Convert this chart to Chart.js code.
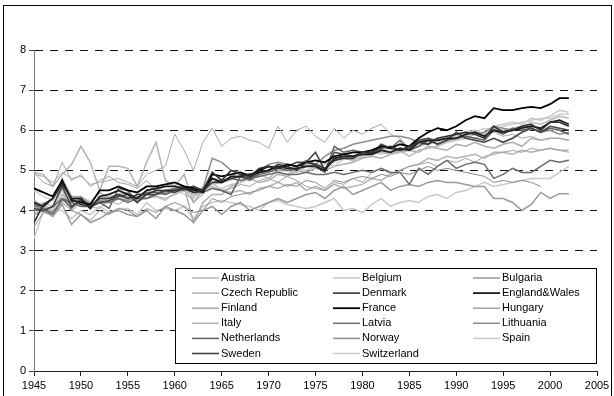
<!DOCTYPE html>
<html>
<head>
<meta charset="utf-8">
<script src="https://cdn.jsdelivr.net/npm/chart.js@4.4.0/dist/chart.umd.min.js"></script>
<style>
  html, body { margin: 0; padding: 0; background: #fff; }
  #wrap { width: 614px; height: 396px; position: relative; }
</style>
</head>
<body>
<div id="wrap"><canvas id="myChart" width="614" height="396"></canvas></div>
<script>
// years 1945 .. 2002
const years = [];
for (let y = 1945; y <= 2002; y++) years.push(y);

const countries = ["Austria","Belgium","Bulgaria","Czech Republic","Denmark","England&Wales",
  "Finland","France","Hungary","Italy","Latvia","Lithuania","Netherlands","Norway","Spain",
  "Sweden","Switzerland"];

const austria = [4.2,4.15,4.0,4.4,4.1,4.3,4.05,4.25,4.3,4.3, 4.35,4.2,4.4,4.35,4.3,4.4,4.5,4.4,4.5,4.8,
  4.75,4.8,4.75,4.9,4.9,4.8,5.0,5.0,4.95,5.1, 5.15,5.05,5.25,5.3,5.25,5.35,5.4,5.45,5.4,5.5,
  5.35,5.5,5.55,5.6,5.7,5.75,5.8,5.9,5.95,6.05, 6.0,6.05,6.1,6.2,6.15,6.25,6.35,6.3];
const belgium = [4.05,4.2,4.1,4.5,4.0,4.2,4.1,4.05,4.25,4.15, 4.3,4.25,4.3,4.35,4.25,4.45,4.6,4.35,4.45,4.6,
  4.55,4.65,4.7,4.8,4.85,4.9,4.95,4.9,5.05,5.0, 5.1,5.2,5.1,5.3,5.35,5.4,5.4,5.5,5.55,5.45,
  5.6,5.65,5.7,5.8,5.75,5.85,5.95,6.0,5.9,6.1, 6.15,6.2,6.15,6.3,6.25,6.35,6.5,6.45];
const bulgaria = [3.9,4.0,3.85,4.15,3.65,3.9,3.7,3.8,3.95,4.0, 3.9,3.85,4.0,3.8,4.1,4.0,3.9,3.7,4.0,4.1,
  3.9,4.1,4.2,4.0,4.1,4.2,4.3,4.2,4.3,4.4, 4.45,4.3,4.5,4.6,4.4,4.5,4.6,4.7,4.5,4.6,
  4.65,4.6,4.7,4.75,4.7,4.7,4.65,4.6,4.6,4.3, 4.3,4.2,4.0,4.15,4.45,4.3,4.42,4.42];
const czech = [4.25,4.1,3.95,4.8,4.35,4.35,4.2,4.45,4.3,4.4, 4.45,4.3,4.5,4.55,4.4,4.5,4.6,3.7,4.2,4.4,
  4.4,4.6,4.7,4.8,4.7,4.75,4.9,4.85,5.0,4.95, 5.05,5.0,5.1,5.15,5.2,5.3,5.35,5.3,5.4,5.45,
  5.5,5.45,5.6,5.55,5.5,5.65,5.6,5.7,5.6,5.55, 5.65,5.7,5.6,5.8,5.75,5.8,5.8,5.75];
const denmark = [3.7,4.15,4.3,4.65,4.3,4.15,4.1,4.3,4.3,4.4, 4.3,4.4,4.4,4.5,4.5,4.5,4.55,4.45,4.5,4.95,
  4.75,5.0,4.9,4.85,5.05,5.1,5.05,5.1,5.0,5.2, 5.15,5.05,5.25,5.3,5.3,5.45,5.45,5.55,5.6,5.5,
  5.6,5.7,5.65,5.8,5.85,5.9,5.95,5.9,5.8,6.1, 5.95,6.0,6.1,6.15,6.0,6.2,6.2,6.1];
const england = [4.2,4.1,4.3,4.7,4.3,4.3,4.05,4.35,4.4,4.5, 4.4,4.3,4.5,4.55,4.6,4.6,4.55,4.5,4.5,4.8,
  4.7,4.85,4.85,4.9,4.95,5.0,5.1,5.05,5.05,5.1, 5.1,5.0,5.3,5.35,5.35,5.4,5.4,5.5,5.45,5.55,
  5.5,5.7,5.75,5.75,5.8,5.8,5.9,5.95,5.85,6.0, 5.95,6.0,6.05,6.1,6.05,6.2,6.25,6.15];
const finland = [4.9,4.85,4.7,4.95,4.8,4.85,4.65,4.7,4.75,4.8, 4.7,4.6,4.9,5.0,5.1,5.9,5.5,5.0,5.7,6.05,
  5.6,5.8,5.85,5.75,5.7,5.55,6.1,5.7,6.0,6.1, 5.85,5.7,6.05,5.8,6.0,5.9,6.05,6.15,5.9,5.8,
  5.55,5.6,5.7,5.75,5.8,5.9,5.85,5.8,5.9,5.95, 5.85,5.9,5.8,5.85,5.75,5.8,5.8,5.75];
const france = [4.55,4.45,4.35,4.75,4.25,4.2,4.15,4.5,4.5,4.6, 4.5,4.45,4.6,4.6,4.65,4.7,4.6,4.55,4.45,4.9,
  4.85,4.9,4.95,4.85,5.0,5.1,5.05,5.15,5.1,5.2, 5.25,5.2,5.35,5.4,5.45,5.45,5.5,5.6,5.55,5.65,
  5.6,5.8,5.95,6.05,6.0,6.1,6.25,6.35,6.3,6.55, 6.5,6.5,6.55,6.58,6.55,6.65,6.8,6.8];
const hungary = [4.95,4.7,4.6,5.2,4.75,4.9,4.6,4.75,4.85,4.7, 4.65,4.55,4.75,4.5,4.6,4.7,4.55,4.2,4.4,4.7,
  4.5,4.55,4.65,4.6,4.75,4.8,4.7,4.85,4.75,4.6, 4.55,4.5,4.7,4.65,4.8,4.7,4.95,5.05,4.9,5.0,
  5.1,5.15,5.2,5.1,5.25,5.2,5.3,5.2,5.35,5.4, 5.45,5.5,5.45,5.55,5.5,5.55,5.5,5.45];
const italy = [4.95,4.9,4.6,4.9,5.15,5.6,5.2,4.5,5.1,5.1, 5.05,4.6,5.2,5.7,4.75,4.6,4.9,4.2,4.5,4.6,
  4.5,4.45,4.5,4.4,4.55,4.6,4.7,4.6,4.7,4.5, 4.6,4.5,4.65,4.55,4.6,4.65,4.8,4.75,4.9,5.0,
  5.1,5.15,5.3,5.25,5.35,5.3,5.35,5.4,5.3,5.45, 5.45,5.4,5.5,5.45,5.5,5.55,5.5,5.5];
const latvia = [4.0,4.0,4.1,4.3,4.2,4.1,4.1,4.2,4.2,4.3, 4.2,4.3,4.3,4.4,4.5,4.55,4.5,4.6,4.5,4.7,
  4.75,4.8,4.75,4.8,4.85,4.9,4.95,4.9,4.9,4.95, 4.9,4.9,4.95,4.9,4.95,5.0,4.95,5.05,4.95,4.95,
  4.65,5.05,4.9,5.1,5.25,5.05,5.15,5.2,5.15,4.8, 4.9,5.05,4.95,4.95,5.1,5.25,5.2,5.25];
const lithuania = [3.6,3.95,3.9,4.2,4.0,3.9,3.75,4.0,3.9,4.05, 4.0,3.85,4.05,3.95,4.1,4.2,4.1,3.95,4.0,4.3,
  4.2,4.35,4.4,4.45,4.5,4.6,4.55,4.65,4.6,4.75, 4.7,4.55,4.75,4.7,4.8,4.85,4.8,4.9,4.85,4.95,
  4.9,5.0,5.1,5.0,5.05,5.0,4.95,4.9,4.85,4.7, 4.75,4.7,4.75,4.7,4.6];
const netherlands = [4.15,4.05,3.9,4.3,4.05,4.3,4.1,4.2,4.05,4.55, 4.5,4.2,4.45,4.45,4.4,4.5,4.6,4.45,4.45,4.55,
  4.5,4.4,4.85,4.75,4.9,4.95,5.05,5.0,5.05,5.1, 5.1,4.95,5.6,5.45,5.5,5.45,5.5,5.6,5.55,5.75,
  5.5,5.6,5.75,5.65,5.75,5.8,5.85,5.8,5.75,6.0, 5.9,6.05,6.0,6.05,5.95,6.05,6.0,5.9];
const norway = [4.1,4.0,3.95,4.25,4.2,4.3,4.15,4.25,4.2,4.3, 4.25,4.35,4.3,4.4,4.45,4.55,4.6,4.5,4.55,5.3,
  5.2,5.0,4.95,4.9,5.0,5.15,5.2,5.15,5.1,5.25, 5.15,5.35,5.5,5.55,5.65,5.7,5.75,5.8,5.85,5.85,
  5.8,5.7,5.8,5.75,5.8,5.9,5.95,5.9,5.95,6.1, 6.05,6.0,6.1,6.05,5.95,6.0,5.9,5.95];
const spain = [3.3,4.0,4.0,4.0,3.8,4.0,3.9,4.1,3.95,4.05, 4.05,3.9,4.2,4.0,4.05,4.0,4.1,3.8,4.1,4.2,
  4.25,4.2,4.15,4.1,4.0,4.2,4.25,4.15,4.1,4.05, 4.1,4.2,4.3,4.0,4.05,3.95,4.15,4.3,4.1,4.2,
  4.25,4.2,4.35,4.4,4.3,4.45,4.5,4.6,4.7,4.6, 4.65,4.7,4.75,4.8,4.8,4.8,4.95,5.1];
const sweden = [4.05,4.0,4.1,4.6,4.1,4.25,4.1,4.2,4.25,4.35, 4.4,4.2,4.4,4.4,4.5,4.45,4.55,4.6,4.5,4.7,
  4.7,4.8,4.85,4.8,4.95,5.0,5.15,5.1,5.2,5.2, 5.45,5.0,5.45,5.4,5.35,5.45,5.4,5.65,5.55,5.5,
  5.55,5.75,5.8,5.65,5.75,5.95,5.8,5.75,5.7,5.8, 5.7,5.8,5.95,6.05,5.95,6.1,6.05,6.0];
const switzerland = [4.5,4.35,4.25,4.55,4.2,4.35,4.15,4.3,4.35,4.4, 4.25,4.4,4.45,4.5,4.45,4.55,4.4,4.3,4.6,4.65,
  4.7,4.75,4.85,4.8,4.9,5.0,4.95,5.05,5.0,5.15, 5.1,5.15,5.2,5.35,5.3,5.35,5.45,5.4,5.5,5.55,
  5.5,5.6,5.65,5.7,5.8,5.9,5.85,5.95,6.05,6.0, 6.1,6.15,6.2,6.25,6.3,6.3,6.4,6.4];

const seriesValues = [austria, belgium, bulgaria, czech, denmark, england, finland, france, hungary,
  italy, latvia, lithuania, netherlands, norway, spain, sweden, switzerland];

const lineColors = ["#b9b9b9","#c6c6c6","#9a9a9a","#adadad","#303030","#1c1c1c","#a8a8a8","#000000",
  "#a2a2a2","#b3b3b3","#6c6c6c","#8a8a8a","#606060","#8e8e8e","#c9c9c9","#444444","#cfcfcf"];
const lineWidths = [1.5,1.5,1.5,1.5,1.6,1.8,1,1.8,1,1.5,1.5,1,1.5,1.5,1.5,1.6,1.5];

const yTicks = [0,1,2,3,4,5,6,7,8];
const xTicks = [1945,1950,1955,1960,1965,1970,1975,1980,1985,1990,1995,2000,2005];

const datasets = countries.map((name, i) => ({
  label: name,
  data: seriesValues[i].map((v, j) => ({ x: years[j], y: v })),
  borderColor: lineColors[i],
  borderWidth: lineWidths[i],
  pointRadius: 0,
  tension: 0,
  fill: false,
  order: lineWidths[i] > 1.55 ? 0 : (lineColors[i] < "#90" ? 1 : 2)
}));

// legend box drawn inside the plot, Excel style
const boxLegend = {
  id: "boxLegend",
  afterDatasetsDraw(chart) {
    const ctx = chart.ctx;
    const x0 = 175, y0 = 268, w = 421, h = 95;
    ctx.save();
    ctx.fillStyle = "#fff";
    ctx.fillRect(x0, y0, w, h);
    ctx.strokeStyle = "#000";
    ctx.lineWidth = 1;
    ctx.strokeRect(x0 + 0.5, y0 + 0.5, w, h);
    ctx.font = "11px 'Liberation Sans', Arial, sans-serif";
    ctx.textBaseline = "middle";
    ctx.fillStyle = "#000";
    const colX = [192, 333, 473];
    chart.data.datasets.forEach((ds, i) => {
      const col = i % 3, row = Math.floor(i / 3);
      const lx = colX[col], ly = 278 + row * 15.1;
      ctx.strokeStyle = ds.borderColor;
      ctx.lineWidth = Math.max(ds.borderWidth, 1.5);
      ctx.beginPath();
      ctx.moveTo(lx, ly);
      ctx.lineTo(lx + 27, ly);
      ctx.stroke();
      ctx.fillText(ds.label, lx + 29, ly);
    });
    ctx.restore();
  },
  afterDraw(chart) {
    const ctx = chart.ctx;
    ctx.save();
    ctx.strokeStyle = "#000";
    ctx.lineWidth = 1;
    ctx.strokeRect(3.5, 5.5, 608, 400);
    ctx.restore();
  }
};

const ctx = document.getElementById("myChart");
new Chart(ctx, {
  type: "line",
  data: { datasets },
  plugins: [boxLegend],
  options: {
    responsive: false,
    animation: false,
    layout: { padding: { top: 50, right: 17, left: 0, bottom: 0 } },
    plugins: { legend: { display: false }, tooltip: { enabled: false } },
    scales: {
      x: {
        type: "linear",
        min: 1945, max: 2005,
        afterBuildTicks: (s) => { s.ticks = xTicks.map(v => ({ value: v })); },
        afterFit: (s) => { s.height = 25; },
        ticks: {
          color: "#000",
          font: { size: 11, family: "'Liberation Sans', Arial, sans-serif" },
          padding: 3,
          maxRotation: 0,
          callback: (v) => String(v)
        },
        grid: { drawOnChartArea: false, drawTicks: true, tickLength: 5, tickColor: "#222" },
        border: { color: "#222", width: 1 }
      },
      y: {
        min: 0, max: 8,
        afterBuildTicks: (s) => { s.ticks = yTicks.map(v => ({ value: v })); },
        afterFit: (s) => { s.width = 34; },
        ticks: {
          color: "#000",
          font: { size: 11, family: "'Liberation Sans', Arial, sans-serif" },
          padding: 3,
          callback: (v) => String(v)
        },
        grid: {
          color: (c) => (c.tick && c.tick.value === 0 ? "rgba(0,0,0,0)" : "#111"),
          lineWidth: 1,
          tickLength: 5,
          tickColor: "#444"
        },
        border: { color: "#777", width: 1, dash: [8, 7] }
      }
    }
  }
});
</script>
</body>
</html>
